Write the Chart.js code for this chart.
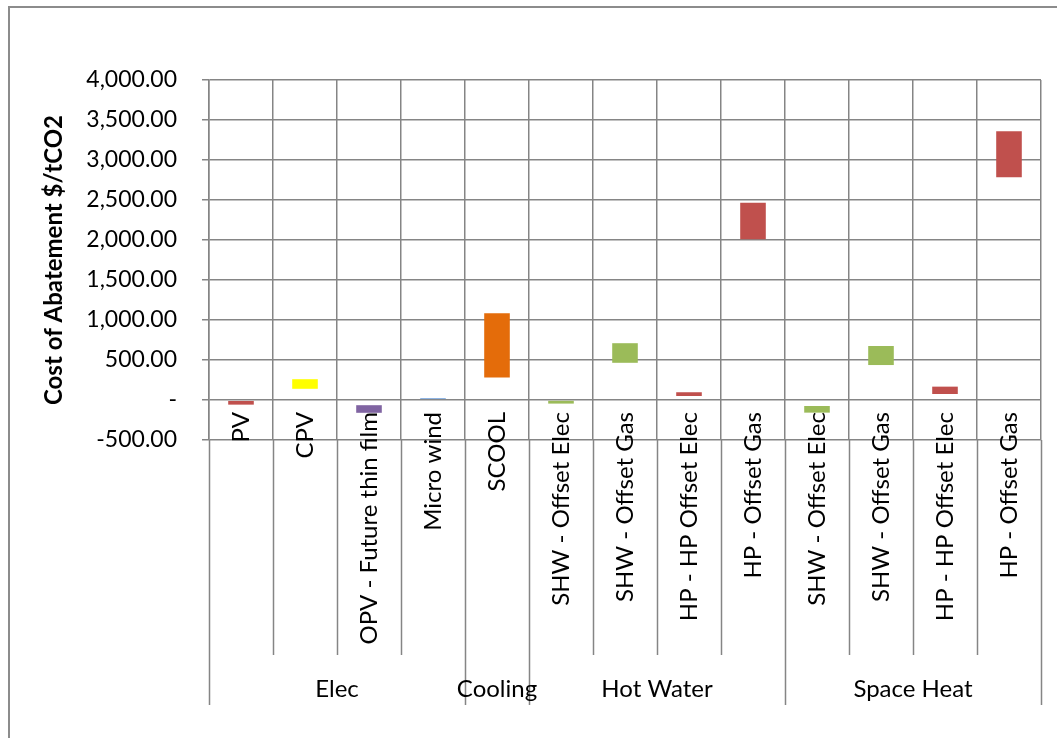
<!DOCTYPE html>
<html>
<head>
<meta charset="utf-8">
<script src="https://cdn.jsdelivr.net/npm/chart.js@4.4.1/dist/chart.umd.min.js"></script>
<style>
  html, body { margin: 0; padding: 0; background: #fff; overflow: hidden; }
  #wrap { position: relative; width: 1057px; height: 738px; }
  #frame { position: absolute; left: 8px; top: 6px; width: 1100px; height: 800px; border: 2px solid #8c8c8c; box-sizing: border-box; }
  canvas { position: absolute; left: 0; top: 0; }
</style>
</head>
<body>
<div id="wrap">
  <div id="frame"></div>
  <canvas id="abatementChart" width="1057" height="738"></canvas>
</div>
<script>
// technologies on the category axis
const categories = [
  "PV", "CPV", "OPV - Future thin film", "Micro wind",
  "SCOOL",
  "SHW - Offset Elec", "SHW - Offset Gas", "HP - HP Offset Elec", "HP - Offset Gas",
  "SHW - Offset Elec", "SHW - Offset Gas", "HP - HP Offset Elec", "HP - Offset Gas"
];
// end use groups (name, number of categories)
const groups = ["Elec", "Cooling", "Hot Water", "Space Heat"];
const groupSizes = [4, 1, 4, 4];

// cost range of abatement, $/tCO2
const lowCost  = [-58, 140, -160, 12, 280, -45, 465, 50, 2010, -158, 437, 75, 2785];
const highCost = [-12, 260, -65, 25, 1085, -10, 710, 97, 2465, -75, 675, 167, 3360];

const barColors = [
  "#C0504D", "#FFFF00", "#8064A2", "#8EB4E3",
  "#E46C0A",
  "#9BBB59", "#9BBB59", "#C0504D", "#C0504D",
  "#9BBB59", "#9BBB59", "#C0504D", "#C0504D"
];

const yMin = -500, yMax = 4000, yStep = 500;

const FONT = "Lato, 'Open Sans', sans-serif";
const GRID = "#858585";

// lower part of the two level category axis
const groupAxis = {
  id: "groupAxis",
  afterDraw(chart) {
    const x = chart.scales.x;
    const ctx = chart.ctx;
    const w = x.getPixelForValue(1) - x.getPixelForValue(0);
    const edge = i => x.getPixelForValue(0) - w / 2 + i * w;
    const top = chart.chartArea.bottom;
    const catBottom = 655, groupBottom = 705;

    const groupEdges = [0];
    groupSizes.forEach(n => groupEdges.push(groupEdges[groupEdges.length - 1] + n));

    ctx.save();
    ctx.strokeStyle = GRID;
    ctx.lineWidth = 1.5;
    for (let i = 0; i <= categories.length; i++) {
      const px = Math.round(edge(i)) + 0.5;
      ctx.beginPath();
      ctx.moveTo(px, top);
      ctx.lineTo(px, groupEdges.includes(i) ? groupBottom : catBottom);
      ctx.stroke();
    }
    ctx.fillStyle = "#000";
    ctx.font = "24px " + FONT;
    ctx.textAlign = "center";
    ctx.textBaseline = "middle";
    groups.forEach((g, k) => {
      const cx = (edge(groupEdges[k]) + edge(groupEdges[k + 1])) / 2;
      ctx.fillText(g, cx, 689);
    });
    ctx.restore();
  }
};

const ctx = document.getElementById("abatementChart").getContext("2d");
new Chart(ctx, {
  type: "bar",
  data: {
    labels: categories,
    datasets: [{
      data: categories.map((c, i) => [lowCost[i], highCost[i]]),
      backgroundColor: barColors,
      borderWidth: 0,
      categoryPercentage: 1.0,
      barPercentage: 0.4
    }]
  },
  options: {
    responsive: false,
    animation: false,
    layout: { padding: { left: 10, right: 16, top: 80, bottom: 298 } },
    plugins: { legend: { display: false }, tooltip: { enabled: false } },
    scales: {
      x: {
        position: { y: 0 },
        offset: true,
        grid: { offset: true, color: GRID, lineWidth: 1.5, drawTicks: false },
        border: { display: false },
        ticks: {
          autoSkip: false, minRotation: 90, maxRotation: 90, padding: 12,
          color: "#000", font: { family: FONT, size: 24 }
        },
        afterFit(scale) { scale.paddingLeft = 0; scale.paddingRight = 0; }
      },
      y: {
        min: yMin, max: yMax,
        grid: { color: GRID, lineWidth: 1.5, tickLength: 7 },
        border: { color: GRID, width: 1.5 },
        ticks: {
          stepSize: yStep, padding: 25, color: "#000",
          font: { family: FONT, size: 23 },
          callback: v => v === 0 ? "-" : v.toLocaleString("en-US", { minimumFractionDigits: 2, maximumFractionDigits: 2 })
        },
        title: {
          display: true, text: "Cost of Abatement $/tCO2", color: "#000",
          font: { family: FONT, size: 24, weight: "bold" },
          padding: { top: 30, bottom: 0 }
        },
        afterFit(scale) { scale.width = 199; scale.paddingTop = 0; scale.paddingBottom = 0; }
      }
    }
  },
  plugins: [groupAxis]
});
</script>
</body>
</html>
